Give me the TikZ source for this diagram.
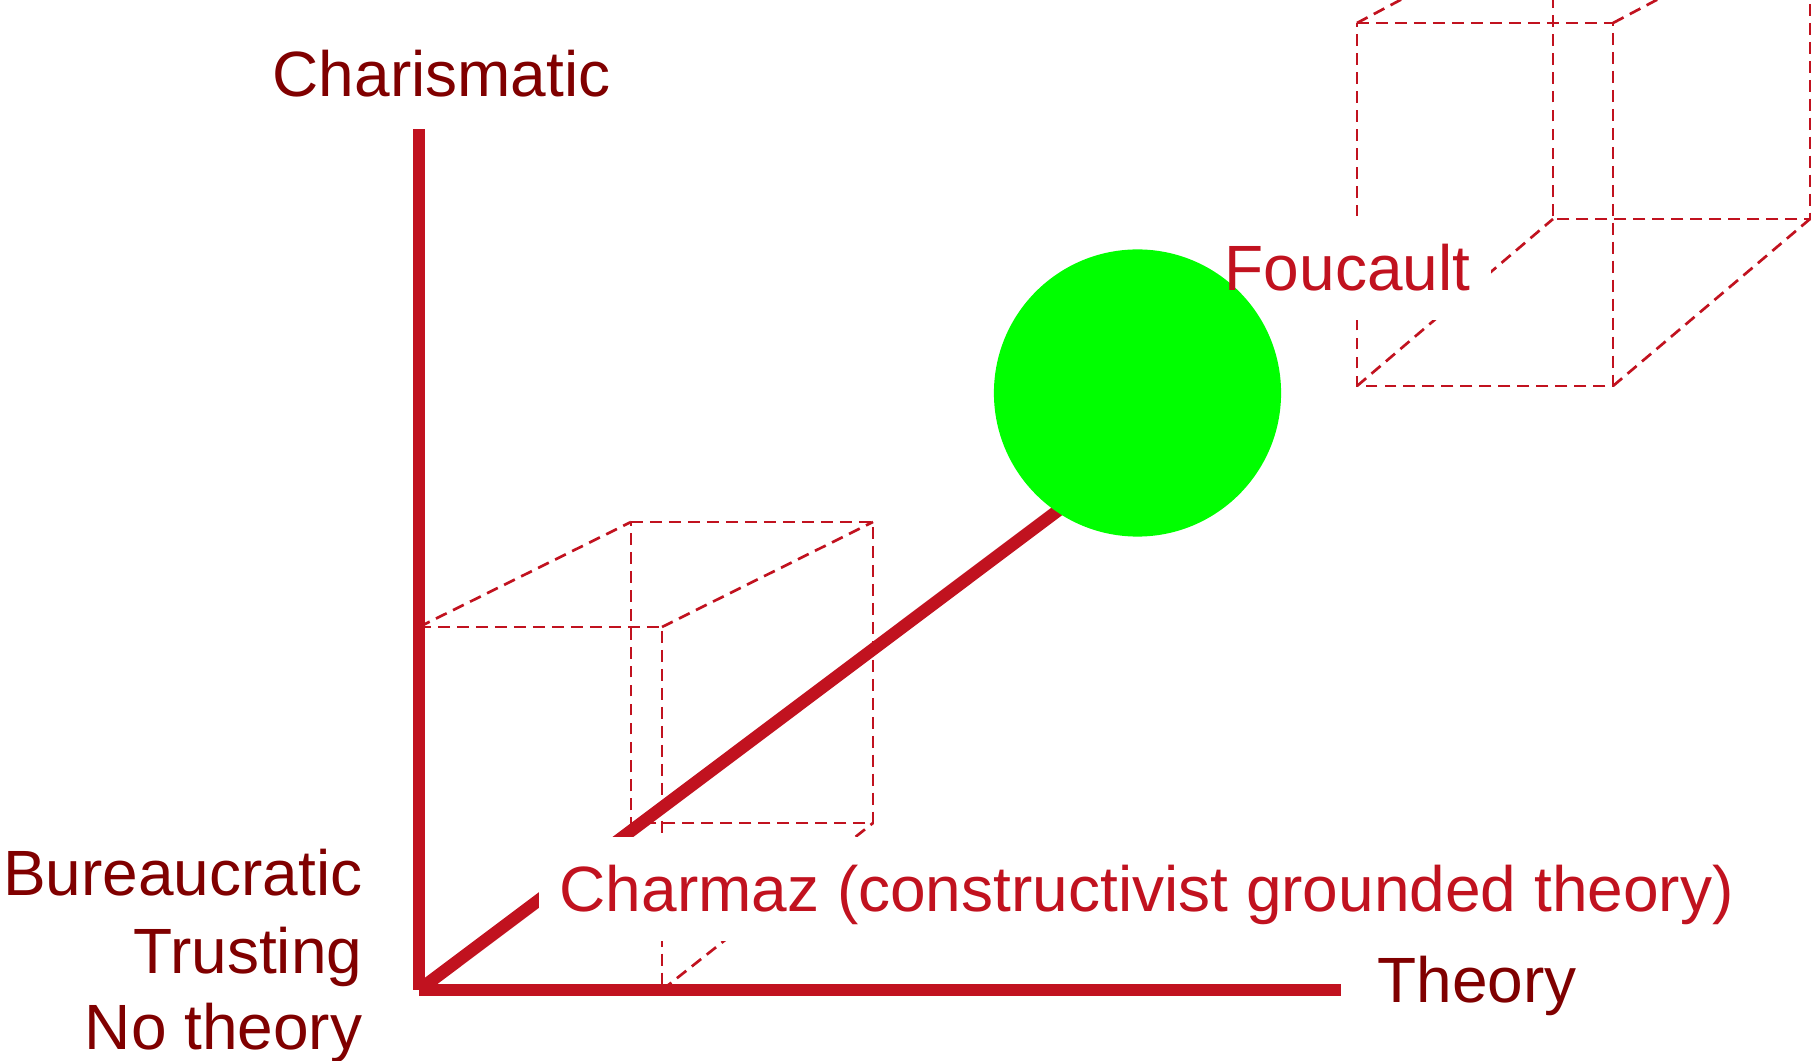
\documentclass[tikz,border=0pt]{standalone}
\usepackage{fontspec}
\setmainfont{Liberation Sans}
\definecolor{axisred}{RGB}{193,18,31}
\definecolor{labeldark}{RGB}{128,0,0}
\definecolor{ballgreen}{RGB}{0,255,0}
\pgfdeclarelayer{back}
\pgfdeclarelayer{mask}
\pgfsetlayers{back,mask,main}
\begin{document}
\begin{tikzpicture}[x=0.01cm, y=-0.01cm,
  axisline/.style={line width=3.56pt, draw=axisred, line cap=butt},
  guide/.style={draw=axisred, line width=0.76pt, dash pattern=on 3.4pt off 2.0pt},
  lbl/.style={font=\fontsize{18.2pt}{22pt}\selectfont, inner sep=0pt},
  darklbl/.style={lbl, text=labeldark},
  redlbl/.style={lbl, text=axisred, inner xsep=5.7pt, inner ysep=4.55pt, text height=16.5pt, text depth=3.4pt},
  ballstyle/.style={circle, fill=ballgreen, inner sep=0pt, minimum size=2.87cm}]
\useasboundingbox (0,0) rectangle (1814,1061);
\clip (0,0) rectangle (1814,1061);

% axis coordinates
\coordinate (O) at (419,990);
\coordinate (ytop) at (419,129);
\coordinate (xend) at (1341,990);
\coordinate (diagend) at (1100,479);

% lower box
\coordinate (A1) at (419,627);
\coordinate (A2) at (662,627);
\coordinate (A3) at (662,990);
\coordinate (B1) at (631,522);
\coordinate (B2) at (873,522);
\coordinate (B3) at (873,823);
\coordinate (B4) at (631,823);
% upper box
\coordinate (C1) at (1357,23);
\coordinate (C2) at (1613,23);
\coordinate (C3) at (1613,386);
\coordinate (C4) at (1357,386);
\coordinate (D1) at (1553,-81);
\coordinate (D2) at (1810,-81);
\coordinate (D3) at (1810,219);
\coordinate (D4) at (1553,219);

\begin{pgfonlayer}{back}
  \draw[guide] (A1) -- (A2) -- (A3);
  \draw[guide] (B1) -- (B2) -- (B3) -- (B4) -- cycle;
  \draw[guide] (A1) -- (B1);
  \draw[guide] (A2) -- (B2);
  \draw[guide] (A3) -- (B3);
  \draw[guide] (C1) -- (C2) -- (C3) -- (C4) -- cycle;
  \draw[guide] (D1) -- (D2) -- (D3) -- (D4) -- cycle;
  \draw[guide] (C1) -- (D1);
  \draw[guide] (C2) -- (D2);
  \draw[guide] (C3) -- (D3);
  \draw[guide] (C4) -- (D4);
  \draw[axisline] (O) -- (diagend);
\end{pgfonlayer}

% ball
\node[ballstyle] (ball) at (1137.5,393) {};

% axes
\draw[axisline] (O) -- (ytop);
\draw[axisline] (O) -- (xend);

% labels
\node[darklbl, anchor=base west] (charis) at (272,97) {Charismatic};
\node[darklbl, anchor=base west] (theory) at (1377,1003) {Theory};
\node[darklbl, anchor=base east] (bur) at (363,896) {Bureaucratic};
\node[darklbl, anchor=base east] (tru) at (363,973) {Trusting};
\node[darklbl, anchor=base east] (noth) at (363,1050) {No theory};

\node[redlbl, anchor=base west] (charmaz) at (539,912) {Charmaz (constructivist grounded theory)};
\node[redlbl, anchor=base west] (foucault) at (1204,291) {Foucault};

\begin{pgfonlayer}{mask}
  \fill[white] (charmaz.south west) rectangle (charmaz.north east);
  \fill[white] (foucault.south west) rectangle (foucault.north east);
\end{pgfonlayer}
\end{tikzpicture}
\end{document}
